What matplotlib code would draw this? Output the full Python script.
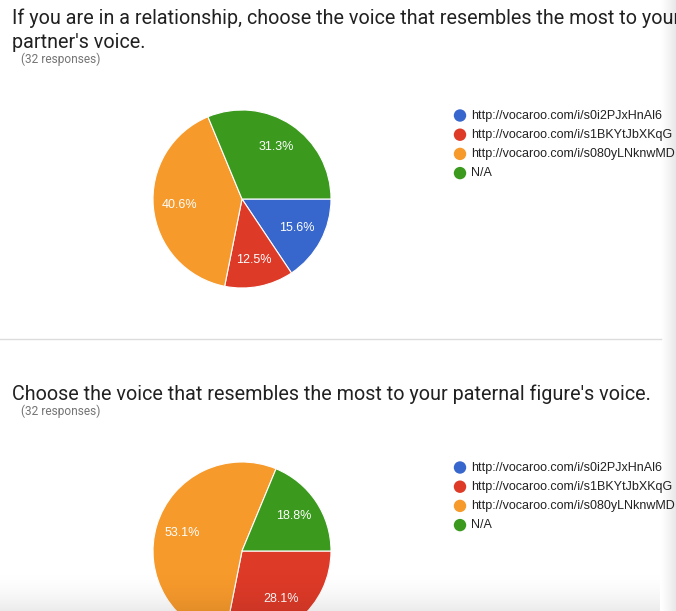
import numpy as np
import matplotlib.pyplot as plt

# Canvas size in pixels (dpi 100)
W, H = 676, 611

# Data
title_lines = [
    ["If you are in a relationship, choose the voice that resembles the most to your",
     "partner's voice."],
    ["Choose the voice that resembles the most to your paternal figure's voice."],
]
responses = ["(32 responses)", "(32 responses)"]
options = ["http://vocaroo.com/i/s0i2PJxHnAl6",
           "http://vocaroo.com/i/s1BKYtJbXKqG",
           "http://vocaroo.com/i/s080yLNknwMD",
           "N/A"]
counts_partner = [5, 4, 13, 10]
counts_paternal = [0, 9, 17, 6]
colors = ["#3767cc", "#de3a28", "#f79a2c", "#3b9a1e"]

sections = [counts_partner, counts_paternal]
offsets = [0, 352]  # vertical offset of each question block


def pct_label(p):
    # google rounds half up (31.25 -> 31.3)
    if p <= 0:
        return ""
    return f"{np.floor(p * 10 + 0.5) / 10:.1f}%"


fig = plt.figure(figsize=(W / 100, H / 100), dpi=100)
ax = fig.add_axes([0, 0, 1, 1])

title_texts = []
for k, counts in enumerate(sections):
    off = offsets[k]
    lines = title_lines[k]
    # last title line has its baseline 48 px below the block top
    for j, line in enumerate(lines):
        base = off + 48 - 24 * (len(lines) - 1 - j)
        t = ax.text(12, base, line, fontsize=14, family="Roboto", color="#212121",
                    va="baseline", ha="left", zorder=5)
        title_texts.append(t)
    ax.text(21, off + 59, responses[k], fontsize=8.6, family="Roboto",
            color="#757575", va="center", ha="left", zorder=5)

    ax.pie(counts, colors=colors, startangle=0, counterclock=True,
           center=(242, 199 + off), radius=89, autopct=pct_label, pctdistance=0.7,
           wedgeprops=dict(edgecolor="white", linewidth=0.8),
           textprops=dict(color="white", fontsize=9, family="Liberation Sans"))

    for i, opt in enumerate(options):
        ly = 115.5 + off + 19.2 * i
        ax.scatter([460], [ly], s=80, color=colors[i], edgecolors="none", zorder=4)
        ax.text(471, ly, opt, fontsize=9, family="Liberation Sans", color="#222222",
                va="center", ha="left", zorder=5)

# separator between the two questions
ax.plot([0, 661], [339, 339], color="#dcdcdc", linewidth=1, zorder=3)

# fit title size to the width of the second title in the screenshot
fig.canvas.draw()
rend = fig.canvas.get_renderer()
bb = title_texts[-1].get_window_extent(rend)
scale = 643 / bb.width
for t in title_texts:
    t.set_fontsize(14 * scale)

# page shadows (right edge and bottom), translucent overlays
shade_r = np.zeros((1, 32, 4))
shade_r[..., 3] = np.linspace(0.0, 0.14, 32) ** 1.2
ax.imshow(shade_r, extent=(660, 676, H, 0), aspect="auto",
          interpolation="bilinear", zorder=6)
shade_b = np.zeros((64, 1, 4))
shade_b[..., 3] = (np.linspace(0.0, 1.0, 64).reshape(-1, 1) ** 2) * 0.08
ax.imshow(shade_b, extent=(0, 660, H, 565), aspect="auto",
          interpolation="bilinear", zorder=6)

ax.set_xlim(0, W)
ax.set_ylim(H, 0)
ax.set_aspect("auto")
ax.axis("off")

fig.savefig("out.png", dpi=100)
